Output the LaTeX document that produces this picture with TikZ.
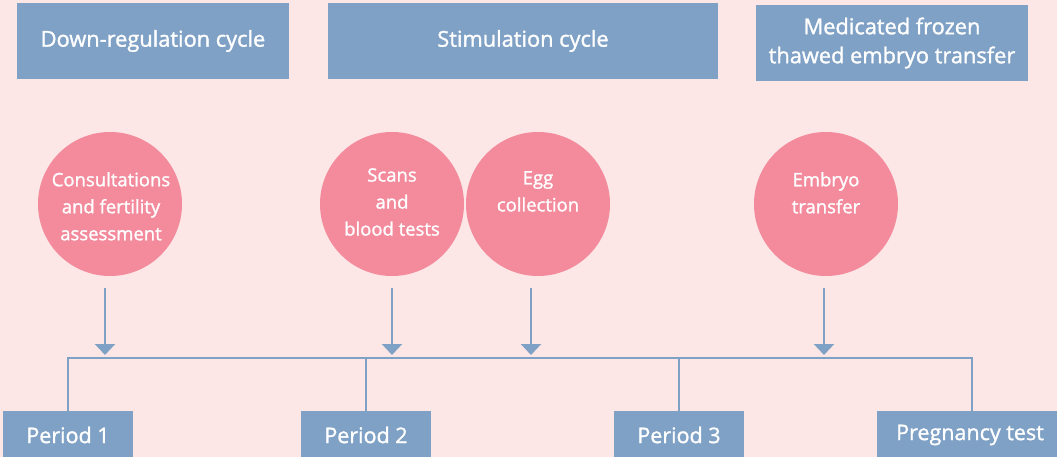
\documentclass[tikz,border=0pt]{standalone}
\usepackage{fontspec}
\setmainfont{Open Sans}[FakeBold=1.3]
\usetikzlibrary{arrows.meta}
\definecolor{bg}{HTML}{FCE6E6}
\definecolor{boxblue}{HTML}{7FA1C5}
\definecolor{circpink}{HTML}{F38B9D}
\tikzset{
  titlebox/.style={fill=boxblue, text=white, inner sep=0pt, align=center,
    font=\fontsize{21.8}{29}\selectfont},
  period/.style={fill=boxblue, text=white, inner sep=0pt, minimum width=130pt,
    minimum height=48pt, font=\fontsize{21.5}{22}\selectfont},
  bubble/.style={circle, fill=circpink, minimum size=144pt, inner sep=0pt},
  bubbletext/.style={text=white, align=center, inner sep=0pt, anchor=north,
    font=\fontsize{18.5}{27}\selectfont},
  conn/.style={draw=boxblue, line width=2.5pt},
  arr/.style={draw=boxblue, line width=2.5pt, -{Triangle[width=20pt,length=11pt]}}
}
\begin{document}
\begin{tikzpicture}[x=1pt,y=-1pt]
\fill[bg] (0,0) rectangle (1057,457);
\useasboundingbox (0,0) rectangle (1057,457);
\clip (0,0) rectangle (1057,457);
% title boxes
\node[titlebox, minimum width=272pt, minimum height=76pt] (t1) at (153,41) {Down-regulation cycle};
\node[titlebox, minimum width=390pt, minimum height=76pt] (t2) at (523,41) {Stimulation cycle};
\node[titlebox, minimum width=272pt, minimum height=76pt] (t3) at (892,43) {Medicated frozen\\thawed embryo transfer};
% circles
\node[bubble] (c1) at (110,204) {};
\node[bubble] (c2) at (392,204) {};
\node[bubble] (c3) at (538,204) {};
\node[bubble] (c4) at (826,204) {};
\node[bubbletext] (l1) at (111,172) {Consultations\\and fertility\\assessment};
\node[bubbletext] (l2) at (392,168) {Scans\\and\\blood tests};
\node[bubbletext] (l3) at (538,171) {Egg\\collection};
\node[bubbletext] (l4) at (826,172) {Embryo\\transfer};
% period boxes
\node[period] (p1) at (68,435) {Period 1};
\node[period] (p2) at (366,435) {Period 2};
\node[period] (p3) at (679,435) {Period 3};
\node[period, minimum width=186pt] (p4) at (970,435) {Pregnancy test};
% bus
\coordinate (busL) at (68,358);
\coordinate (busR) at (972,358);
\draw[conn] (p1.north) -- (busL) -- (busR) -- (busR |- p4.north);
\draw[conn] (p2.north) -- (p2.north |- busL);
\draw[conn] (p3.north) -- (p3.north |- busL);
% arrows
\coordinate (a1) at (105,288);
\coordinate (a2) at (392,288);
\coordinate (a3) at (531,288);
\coordinate (a4) at (824,288);
\draw[arr] (a1) -- (a1 |- 0,355);
\draw[arr] (a2) -- (a2 |- 0,355);
\draw[arr] (a3) -- (a3 |- 0,355);
\draw[arr] (a4) -- (a4 |- 0,355);
\end{tikzpicture}
\end{document}
